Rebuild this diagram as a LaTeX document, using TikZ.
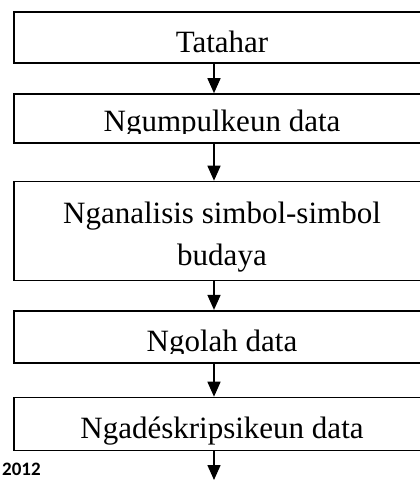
\documentclass[tikz,border=0pt]{standalone}
\usepackage{fontspec}
\setmainfont{Liberation Serif}
\newfontfamily\yearfont{Carlito}
\usetikzlibrary{arrows.meta}
\tikzset{
  stepbox/.style={draw=black, line width=1.6pt, minimum width=416pt, inner sep=0pt},
  steptext/.style={font=\fontsize{31}{42}\selectfont, inner sep=0pt, anchor=base, align=center},
  arr/.style={line width=1.6pt, -{Triangle[length=15pt,width=13pt]}},
}
\begin{document}
\begin{tikzpicture}[x=1pt,y=-1pt]
\clip (0,0) rectangle (420,480);
\fill[white] (0,0) rectangle (420,480);
% boxes
\node[stepbox, minimum height=51pt] (b1) at (222,37.5) {};
\node[stepbox, minimum height=49pt] (b2) at (222,118.5) {};
\node[stepbox, minimum height=99pt] (b3) at (222,231) {};
\node[stepbox, minimum height=52pt] (b4) at (222,336.7) {};
\node[stepbox, minimum height=53pt] (b5) at (222,424) {};
% texts
\node[steptext] (t1) at (222,52.3) {Tatahar};
\begin{scope}
  \clip (16,95) rectangle (428,133.5);
  \node[steptext] (t2) at (222,131.7) {Ngumpulkeun data};
\end{scope}
\node[steptext] (t3a) at (222,223.3) {Nganalisis simbol-simbol};
\node[steptext] (t3b) at (222,265) {budaya};
\begin{scope}
  \clip (16,312) rectangle (428,353.5);
  \node[steptext] (t4) at (222,351.7) {Ngolah data};
\end{scope}
\node[steptext] (t5) at (222,438.3) {Ngadéskripsikeun data};
% arrows
\coordinate (end) at (214,480);
\draw[arr] ([xshift=-8pt]b1.south) -- ([xshift=-8pt]b2.north);
\draw[arr] ([xshift=-8pt]b2.south) -- ([xshift=-8pt]b3.north);
\draw[arr] ([xshift=-8pt]b3.south) -- ([xshift=-8pt]b4.north);
\draw[arr] ([xshift=-8pt]b4.south) -- ([xshift=-8pt]b5.north);
\draw[arr] ([xshift=-8pt]b5.south) -- (end);
% year
\node[font=\yearfont\bfseries\fontsize{19}{19}\selectfont, inner sep=0pt, anchor=base west] (yr) at (2,475) {2012};
\end{tikzpicture}
\end{document}
